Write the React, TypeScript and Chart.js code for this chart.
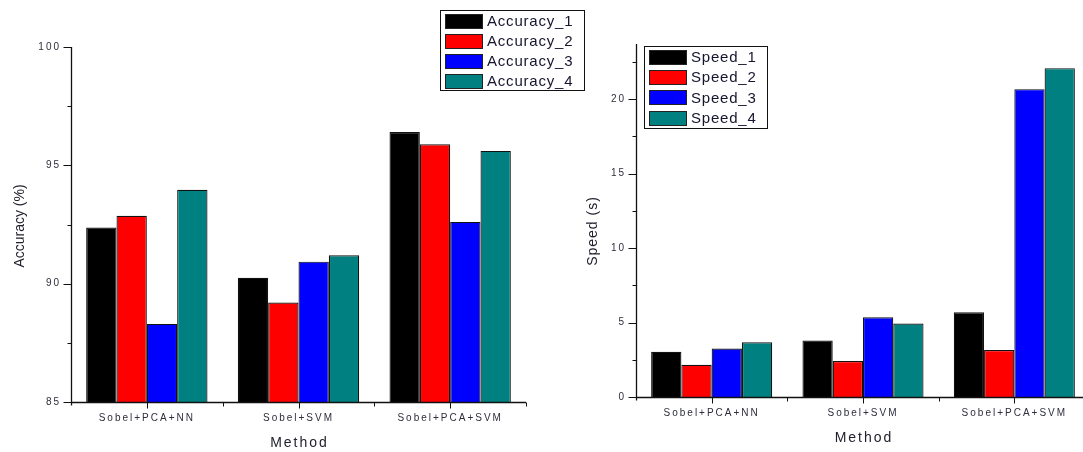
import React, { useEffect, useRef } from 'react';
import { Chart, registerables } from 'chart.js';

Chart.register(...registerables);

// ---------- data ----------
const categories = ['Sobel+PCA+NN', 'Sobel+SVM', 'Sobel+PCA+SVM'];

const accuracyLabels = ['Accuracy_1', 'Accuracy_2', 'Accuracy_3', 'Accuracy_4'];
const accuracy1 = [92.37, 90.25, 96.41];
const accuracy2 = [92.87, 89.2, 95.89];
const accuracy3 = [88.3, 90.93, 92.61];
const accuracy4 = [93.97, 91.2, 95.61];

const speedLabels = ['Speed_1', 'Speed_2', 'Speed_3', 'Speed_4'];
const speed1 = [3.03, 3.79, 5.69];
const speed2 = [2.17, 2.42, 3.16];
const speed3 = [3.25, 5.35, 20.67];
const speed4 = [3.67, 4.93, 22.08];

const accuracyTicks = [85, 87.5, 90, 92.5, 95, 97.5, 100];
const speedTicks = [0, 2.5, 5, 7.5, 10, 12.5, 15, 17.5, 20, 22.5];

const seriesColors = ['#000000', '#ff0000', '#0000ff', '#008080'];

// ---------- styles ----------
const FONT = "'Liberation Sans', Arial, sans-serif";
const AXIS_COLOR = '#111111';
const TICK_TEXT = '#2e2e3c';
const TITLE_TEXT = '#22222e';
const LEGEND_TEXT = '#15152e';

const decoPlugin = {
  id: 'deco',
  beforeDraw(chart: any) {
    (chart.ctx as any).letterSpacing = '2px';
  },
  afterDraw(chart: any, _args: any, o: any) {
    const ctx = chart.ctx as any;
    const ca = chart.chartArea;
    const xs = chart.scales.x;
    const ys = chart.scales.y;
    ctx.save();
    ctx.letterSpacing = '0px';
    ctx.strokeStyle = AXIS_COLOR;
    ctx.lineWidth = 1.3;
    const ax = Math.round(ca.left) + 0.5;
    const ay = Math.round(ca.bottom) + 0.5;
    // axis lines
    ctx.beginPath();
    ctx.moveTo(ax, Math.round(ca.top));
    ctx.lineTo(ax, ay + 3);
    ctx.moveTo(ax, ay);
    ctx.lineTo(ca.right, ay);
    ctx.stroke();
    // y ticks
    ctx.lineWidth = 1;
    ctx.beginPath();
    for (const v of o.yTicks as number[]) {
      const py = Math.round(ys.getPixelForValue(v)) + 0.5;
      const len = v % 5 === 0 ? 8 : 4;
      ctx.moveTo(ax - len, py);
      ctx.lineTo(ax, py);
    }
    // x ticks
    const n = categories.length;
    for (let i = 0; i < n; i++) {
      const px = Math.round(xs.getPixelForValue(i)) + 0.5;
      ctx.moveTo(px, ay);
      ctx.lineTo(px, ay + 6);
    }
    for (let i = 1; i <= n; i++) {
      const px = Math.round(xs.getPixelForValue(i - 0.5)) + 0.5;
      ctx.moveTo(px, ay);
      ctx.lineTo(px, ay + 4);
    }
    ctx.stroke();

    // titles
    ctx.fillStyle = TITLE_TEXT;
    ctx.textAlign = 'center';
    ctx.textBaseline = 'middle';
    ctx.font = `14px ${FONT}`;
    ctx.letterSpacing = o.xTitle.ls;
    ctx.fillText(o.xTitle.text, (ca.left + ca.right) / 2 + 1, ca.bottom + o.xTitle.dy);
    ctx.letterSpacing = o.yTitle.ls;
    ctx.translate(ca.left - o.yTitle.dx, o.yTitle.y);
    ctx.rotate(-Math.PI / 2);
    ctx.fillText(o.yTitle.text, 0, 0);
    ctx.restore();

    // legend
    const lg = o.legend;
    ctx.save();
    ctx.letterSpacing = '0px';
    ctx.lineWidth = 1;
    ctx.strokeStyle = '#111';
    ctx.fillStyle = '#fff';
    ctx.fillRect(lg.x, lg.y, lg.w, lg.h);
    ctx.strokeRect(lg.x + 0.5, lg.y + 0.5, lg.w, lg.h);
    chart.data.datasets.forEach((ds: any, i: number) => {
      const cy = lg.y + lg.first + i * lg.step;
      ctx.fillStyle = ds.backgroundColor;
      ctx.fillRect(lg.x + 5, Math.round(cy - 7), 38, 15);
      ctx.strokeStyle = '#222';
      ctx.strokeRect(lg.x + 5.5, Math.round(cy - 7) + 0.5, 37, 14);
      ctx.fillStyle = LEGEND_TEXT;
      ctx.font = `15px ${FONT}`;
      ctx.letterSpacing = '0.8px';
      ctx.textAlign = 'left';
      ctx.textBaseline = 'middle';
      ctx.fillText(ds.label, lg.x + 47, cy + 1);
      ctx.letterSpacing = '0px';
    });
    ctx.restore();
  },
};

function makeConfig(
  labels: string[],
  series: number[][],
  yMin: number,
  yMax: number,
  yTicks: number[],
  layout: { top: number; right: number; yWidth: number; xHeight: number },
  deco: any
): any {
  return {
    type: 'bar',
    data: {
      labels: categories,
      datasets: series.map((values, i) => ({
        label: labels[i],
        data: values,
        backgroundColor: seriesColors[i],
        borderColor: '#111',
        borderWidth: 1.2,
        categoryPercentage: 0.8,
        barPercentage: 1,
      })),
    },
    options: {
      animation: false,
      responsive: false,
      devicePixelRatio: 1,
      layout: { padding: { left: 0, top: layout.top, right: layout.right, bottom: 0 } },
      plugins: {
        legend: { display: false },
        tooltip: { enabled: false },
        deco: { ...deco, yTicks },
      },
      scales: {
        x: {
          type: 'category',
          offset: true,
          grid: { display: false, drawTicks: true, tickLength: 8 },
          border: { display: false },
          ticks: {
            font: { family: FONT, size: 10 },
            color: TICK_TEXT,
            padding: 2,
            maxRotation: 0,
            autoSkip: false,
          },
          afterFit: (s: any) => {
            s.height = layout.xHeight;
          },
        },
        y: {
          min: yMin,
          max: yMax,
          grid: { display: false, drawTicks: true, tickLength: 8 },
          border: { display: false },
          ticks: {
            stepSize: 2.5,
            includeBounds: false,
            font: { family: FONT, size: 10 },
            color: TICK_TEXT,
            padding: 2,
            callback: (v: any) => (Number(v) % 5 === 0 ? String(v) : ''),
          },
          afterFit: (s: any) => {
            s.width = layout.yWidth;
          },
        },
      },
    },
    plugins: [decoPlugin],
  };
}

export default function App() {
  const leftRef = useRef<HTMLCanvasElement>(null);
  const rightRef = useRef<HTMLCanvasElement>(null);

  useEffect(() => {
    const left = new Chart(
      leftRef.current as HTMLCanvasElement,
      makeConfig(
        accuracyLabels,
        [accuracy1, accuracy2, accuracy3, accuracy4],
        85,
        100,
        accuracyTicks,
        { top: 47, right: 74, yWidth: 71, xHeight: 50 },
        {
          xTitle: { text: 'Method', dy: 41, ls: '2px' },
          yTitle: { text: 'Accuracy (%)', dx: 51, y: 226, ls: '0px' },
          legend: { x: 440, y: 10, w: 144, h: 80, first: 11, step: 20 },
        }
      )
    );
    const right = new Chart(
      rightRef.current as HTMLCanvasElement,
      makeConfig(
        speedLabels,
        [speed1, speed2, speed3, speed4],
        0,
        23.7,
        speedTicks,
        { top: 44, right: 10, yWidth: 76, xHeight: 55 },
        {
          xTitle: { text: 'Method', dy: 41, ls: '2px' },
          yTitle: { text: 'Speed (s)', dx: 43, y: 231, ls: '1px' },
          legend: { x: 84, y: 46, w: 123, h: 82, first: 11, step: 20.2 },
        }
      )
    );
    return () => {
      left.destroy();
      right.destroy();
    };
  }, []);

  return (
    <div
      style={{
        position: 'fixed',
        left: 0,
        top: 0,
        width: 1083,
        height: 452,
        overflow: 'hidden',
        background: '#fff',
      }}
    >
      <canvas
        ref={leftRef}
        width={600}
        height={452}
        style={{ position: 'absolute', left: 0, top: 0, width: 600, height: 452 }}
      />
      <canvas
        ref={rightRef}
        width={540}
        height={452}
        style={{ position: 'absolute', left: 560, top: 0, width: 540, height: 452 }}
      />
    </div>
  );
}
